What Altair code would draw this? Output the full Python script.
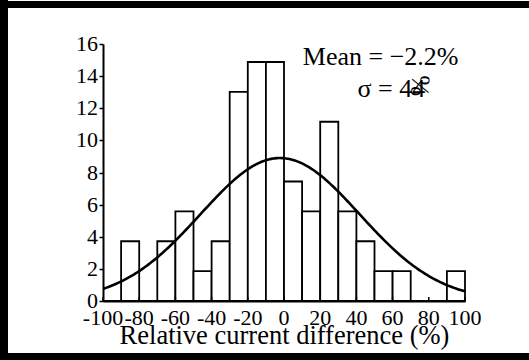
import altair as alt
import pandas as pd
import numpy as np

# Histogram bins (10 % wide) and their normalised heights
bin_start = [-100, -90, -80, -70, -60, -50, -40, -30, -20, -10,
             0, 10, 20, 30, 40, 50, 60, 70, 80, 90]
heights = [0, 3.72, 0, 3.72, 5.58, 1.86, 3.72, 13.02, 14.88, 14.88,
           7.44, 5.58, 11.16, 5.58, 3.72, 1.86, 1.86, 0, 0, 1.86]

# Gaussian fit parameters
mean_pct = -2.2
sigma_pct = 44
peak = 8.9

x_ticks = [-100, -80, -60, -40, -20, 0, 20, 40, 60, 80, 100]
x_labels = ["-100", "-80", "-60", "-40", "-20", "0", "20", "40", "60", "80", "100"]
y_ticks = [0, 2, 4, 6, 8, 10, 12, 14, 16]
y_labels = ["0", "2", "4", "6", "8", "10", "12", "14", "16"]

FONT = "Liberation Serif"
W, H = 362, 257

bars = pd.DataFrame({"start": bin_start,
                     "end": [b + 10 for b in bin_start],
                     "h": heights})

xs = np.linspace(-100, 100, 201)
curve = pd.DataFrame({"x": xs,
                      "y": peak * np.exp(-(xs - mean_pct) ** 2 / (2 * sigma_pct ** 2))})

xscale = alt.Scale(domain=[-100, 100], nice=False, zero=False)
yscale = alt.Scale(domain=[0, 16], nice=False)

# same axis definitions shared by every layer
x_axis = alt.Axis(values=x_ticks, ticks=False, grid=False, labels=False,
                  title="Relative current difference (%)",
                  titleBaseline="alphabetic", titleY=42)
y_axis = alt.Axis(values=y_ticks, grid=False, title=None, labels=False,
                  tickSize=4)

hist = alt.Chart(bars).mark_bar(fill="white", stroke="black",
                                strokeWidth=1.8).encode(
    x=alt.X("start:Q", scale=xscale, axis=x_axis),
    x2="end:Q",
    y=alt.Y("h:Q", scale=yscale, axis=y_axis),
    y2=alt.datum(0),
)

fit = alt.Chart(curve).mark_line(color="black", strokeWidth=2.6).encode(
    x=alt.X("x:Q", scale=xscale, axis=x_axis),
    y=alt.Y("y:Q", scale=yscale, axis=y_axis),
)

# small inward ticks on the x axis
xt = alt.Chart(pd.DataFrame({"t": x_ticks})).mark_rule(
    color="black", strokeWidth=1.5).encode(
    x=alt.X("t:Q", scale=xscale, axis=x_axis),
    y=alt.value(H - 4), y2=alt.value(H),
)

# tick labels
xlab = alt.Chart(pd.DataFrame({"t": x_ticks, "s": x_labels})).mark_text(
    font=FONT, fontSize=22, color="black", align="center",
    baseline="alphabetic").encode(
    x=alt.X("t:Q", scale=xscale, axis=x_axis),
    y=alt.value(H + 24),
    text="s:N",
)
ylab = alt.Chart(pd.DataFrame({"t": y_ticks, "s": y_labels})).mark_text(
    font=FONT, fontSize=22, color="black", align="right",
    baseline="middle").encode(
    x=alt.value(-5),
    y=alt.Y("t:Q", scale=yscale, axis=y_axis),
    text="s:N",
)

mean_txt = alt.Chart(pd.DataFrame({"a": [0]})).mark_text(
    text="Mean = \u22122.2%", font=FONT, fontSize=26, color="black",
    align="center", baseline="alphabetic").encode(
    x=alt.datum(53.4, scale=xscale, axis=x_axis),
    y=alt.datum(14.7, scale=yscale, axis=y_axis))

sigma_txt = alt.Chart(pd.DataFrame({"a": [0]})).mark_text(
    text="\u03c3 = 44", font=FONT, fontSize=26, color="black",
    align="center", baseline="alphabetic").encode(
    x=alt.datum(59.3, scale=xscale, axis=x_axis),
    y=alt.datum(12.7, scale=yscale, axis=y_axis))

pct_txt = alt.Chart(pd.DataFrame({"a": [0]})).mark_text(
    text="%", font=FONT, fontSize=26, color="black", angle=95,
    align="center", baseline="middle").encode(
    x=alt.datum(75.0, scale=xscale, axis=x_axis),
    y=alt.datum(13.4, scale=yscale, axis=y_axis))

# thick page frame (left, top, bottom edges)
frame_src = pd.DataFrame({"a": [0]})
frame_left = alt.Chart(frame_src).mark_rect(color="black", clip=False).encode(
    x=alt.value(-103), x2=alt.value(-95), y=alt.value(-44), y2=alt.value(H + 59))
frame_top = alt.Chart(frame_src).mark_rect(color="black", clip=False).encode(
    x=alt.value(-103), x2=alt.value(W + 64), y=alt.value(-43), y2=alt.value(-36))
frame_bottom = alt.Chart(frame_src).mark_rect(color="black", clip=False).encode(
    x=alt.value(-103), x2=alt.value(W + 64), y=alt.value(H + 52), y2=alt.value(H + 59))

chart = alt.layer(hist, fit, xt, xlab, ylab, mean_txt, sigma_txt, pct_txt,
                  frame_left, frame_top, frame_bottom).properties(
    width=W, height=H,
    padding={"left": 103, "top": 44, "right": 64, "bottom": 59},
    autosize=alt.AutoSizeParams(type="none"),
    background="white",
).configure_view(stroke=None).configure_axis(
    titleFont=FONT, titleFontSize=26.5, titleFontWeight="normal",
    titleColor="black", domainColor="black", domainWidth=2,
    tickColor="black", tickWidth=1.5,
)

chart.save("out.html", embed_options={"renderer": "svg", "actions": False})
